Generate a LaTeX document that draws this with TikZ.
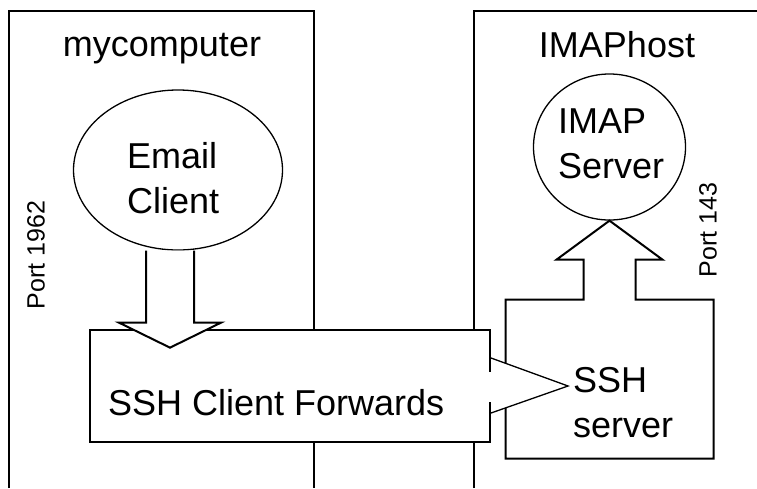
\documentclass[tikz,border=0pt]{standalone}
\usepackage{fontspec}
\setmainfont{Liberation Sans}
\usepackage{tikz}
\usetikzlibrary{shapes.geometric,calc}

\begin{document}
\begin{tikzpicture}[x=1pt, y=-1pt,
    frame/.style={draw, line width=2pt, line join=miter},
    bubble/.style={ellipse, draw, line width=1.3pt, inner sep=0pt},
    txt/.style={font=\fontsize{36}{45}\selectfont, inner sep=0pt, align=left},
    portlabel/.style={font=\fontsize{25}{30}\selectfont, inner sep=0pt, rotate=90}]
    \useasboundingbox (0,0) rectangle (757,488);
    % Hosts
    \draw[frame] (9,488) |- (314,11) -- (314,488);
    \draw[frame] (474,488) |- (757,11);
    \node[txt, anchor=base] (mycomp) at (162,56) {mycomputer};
    \node[txt, anchor=base] (imaphost) at (617,57) {IMAPhost};
    \node[portlabel] (port1962) at (36,255) {Port 1962};
    \node[portlabel] (port143) at (708,230) {Port 143};

    % Programs
    \node[bubble, minimum width=209pt, minimum height=160pt] (email) at (178,170) {};
    \node[txt, anchor=north west] (emailtxt) at (127,142) {Email\\Client};
    \node[bubble, minimum width=152pt, minimum height=146pt] (imap) at (609.5,147) {};
    \node[txt, anchor=north west] (imaptxt) at (558,109) {IMAP\\Server};

    \node[frame, fill=white, minimum width=400pt, minimum height=112pt] (fwd) at (290,386) {};
    \node[txt, anchor=north west] (fwdtxt) at (108,389) {SSH Client Forwards};

    % Email client down to the forwarder
    \draw[frame, fill=white] ($(email.south)+(-32,0)$) -- ++(0,72) -- ++(-27,0) -- ++(51,25)
        -- ++(51,-25) -- ++(-27,0) -- ++(0,-72);

    % SSH server box with its arrow up to the IMAP server
    \draw[frame, fill=white] (imap.south) -- ++(-53,39) -- ++(27,0) -- ++(0,40) -- ++(-78,0)
        -- ++(0,159) -- ++(208,0) -- ++(0,-159) -- ++(-78,0) -- ++(0,-40) -- ++(27,0) -- cycle;

    % Tunnel
    \coordinate (tip) at (568,386);
    \draw[white, line width=3pt] ($(fwd.east)+(-1,-14)$) -- ++(0,30);
    \draw[line width=1.3pt, fill=white] ($(fwd.east)+(0,-28)$) -- (tip) -- ($(fwd.east)+(0,27)$);
    \node[txt, anchor=north west] (sshd) at (573,367) {SSH\\ server};
\end{tikzpicture}
\end{document}
